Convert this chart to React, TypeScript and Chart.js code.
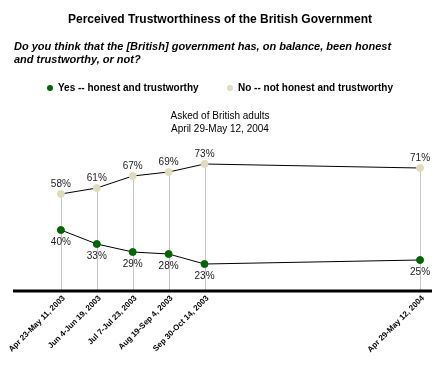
import React, { useEffect, useRef } from "react";
import { Chart, registerables } from "chart.js";

Chart.register(...registerables);

const periodLabels = [
  "Apr 23-May 11, 2003",
  "Jun 4-Jun 19, 2003",
  "Jul 7-Jul 23, 2003",
  "Aug 19-Sep 4, 2003",
  "Sep 30-Oct 14, 2003",
  "Apr 29-May 12, 2004",
];
const periodPos = [0, 1, 2, 3, 4, 10];
const yesValues = [40, 33, 29, 28, 23, 25];
const noValues = [58, 61, 67, 69, 73, 71];

const titleText = "Perceived Trustworthiness of the British Government";
const questionLines = [
  "Do you think that the [British] government has, on balance, been honest",
  "and trustworthy, or not?",
];
const legendLabels = ["Yes -- honest and trustworthy", "No -- not honest and trustworthy"];
const noteLines = ["Asked of British adults", "April 29-May 12, 2004"];

const GREEN = "#006600";
const BEIGE = "#dedcbc";
const FONT = "Arial, 'Liberation Sans', sans-serif";

const decorPlugin = {
  id: "decor",
  beforeDatasetsDraw(chart: any) {
    const ctx = chart.ctx;
    const xs = chart.scales.x;
    const ys = chart.scales.y;
    const area = chart.chartArea;
    ctx.save();
    ctx.strokeStyle = "#c8c8c8";
    ctx.lineWidth = 1;
    periodPos.forEach((p, i) => {
      const x = Math.round(xs.getPixelForValue(p)) + 0.5;
      const yTop = ys.getPixelForValue(noValues[i]);
      ctx.beginPath();
      ctx.moveTo(x, yTop);
      ctx.lineTo(x, area.bottom);
      ctx.stroke();
    });
    ctx.restore();
  },
  afterDatasetsDraw(chart: any) {
    const ctx = chart.ctx;
    const xs = chart.scales.x;
    const ys = chart.scales.y;
    const area = chart.chartArea;
    ctx.save();
    ctx.strokeStyle = "#000";
    ctx.lineWidth = 3;
    ctx.beginPath();
    ctx.moveTo(area.left, area.bottom + 1);
    ctx.lineTo(area.right, area.bottom + 1);
    ctx.stroke();
    ctx.fillStyle = "#000";
    ctx.font = "bold 8px " + FONT;
    ctx.textAlign = "right";
    ctx.textBaseline = "middle";
    periodPos.forEach((p, i) => {
      const x = xs.getPixelForValue(p);
      ctx.save();
      ctx.translate(x + 3, area.bottom + 7);
      ctx.rotate(-Math.PI / 4);
      ctx.fillText(periodLabels[i], 0, 0);
      ctx.restore();
    });
    ctx.fillStyle = "#222";
    ctx.font = "10px " + FONT;
    ctx.textAlign = "center";
    ctx.textBaseline = "middle";
    periodPos.forEach((p, i) => {
      const x = xs.getPixelForValue(p);
      ctx.fillText(noValues[i] + "%", x, ys.getPixelForValue(noValues[i]) - 10);
      ctx.fillText(yesValues[i] + "%", x, ys.getPixelForValue(yesValues[i]) + 12);
    });
    ctx.fillStyle = "#000";
    ctx.font = "bold 12px " + FONT;
    ctx.textAlign = "center";
    ctx.fillText(titleText, 220, 20);
    ctx.font = "italic bold 11px " + FONT;
    ctx.textAlign = "left";
    ctx.fillText(questionLines[0], 14, 47);
    ctx.fillText(questionLines[1], 14, 60);
    ctx.font = "bold 10px " + FONT;
    const legendX = [50, 230];
    const legendColors = [GREEN, BEIGE];
    legendLabels.forEach((t, i) => {
      ctx.fillStyle = legendColors[i];
      ctx.beginPath();
      ctx.arc(legendX[i], 88, 3, 0, Math.PI * 2);
      ctx.fill();
      ctx.fillStyle = "#000";
      ctx.fillText(t, legendX[i] + 8, 88);
    });
    ctx.font = "10px " + FONT;
    ctx.textAlign = "center";
    ctx.fillText(noteLines[0], 220, 116);
    ctx.fillText(noteLines[1], 220, 129);
    ctx.restore();
  },
};

export default function App() {
  const ref = useRef<HTMLCanvasElement>(null);
  useEffect(() => {
    if (!ref.current) return;
    const chart = new Chart(ref.current, {
      type: "line",
      data: {
        datasets: [
          {
            label: legendLabels[1],
            data: periodPos.map((p, i) => ({ x: p, y: noValues[i] })),
            borderColor: "#000",
            borderWidth: 1,
            pointBackgroundColor: BEIGE,
            pointBorderColor: BEIGE,
            pointRadius: 3.5,
            tension: 0,
          },
          {
            label: legendLabels[0],
            data: periodPos.map((p, i) => ({ x: p, y: yesValues[i] })),
            borderColor: "#000",
            borderWidth: 1,
            pointBackgroundColor: GREEN,
            pointBorderColor: GREEN,
            pointRadius: 3.5,
            tension: 0,
          },
        ],
      },
      options: {
        animation: false,
        responsive: false,
        devicePixelRatio: 1,
        layout: { padding: { left: 13, right: 8, top: 150, bottom: 75 } },
        scales: {
          x: { type: "linear", min: -1.333, max: 10.333, display: false },
          y: { type: "linear", min: 10, max: 80, display: false },
        },
        plugins: {
          legend: { display: false },
          tooltip: { enabled: false },
          title: { display: false },
        },
      },
      plugins: [decorPlugin],
    });
    return () => chart.destroy();
  }, []);
  return (
    <div style={{ position: "fixed", left: 0, top: 0, width: 440, height: 365, background: "#fff" }}>
      <canvas ref={ref} width={440} height={365} style={{ width: 440, height: 365, display: "block" }} />
    </div>
  );
}
